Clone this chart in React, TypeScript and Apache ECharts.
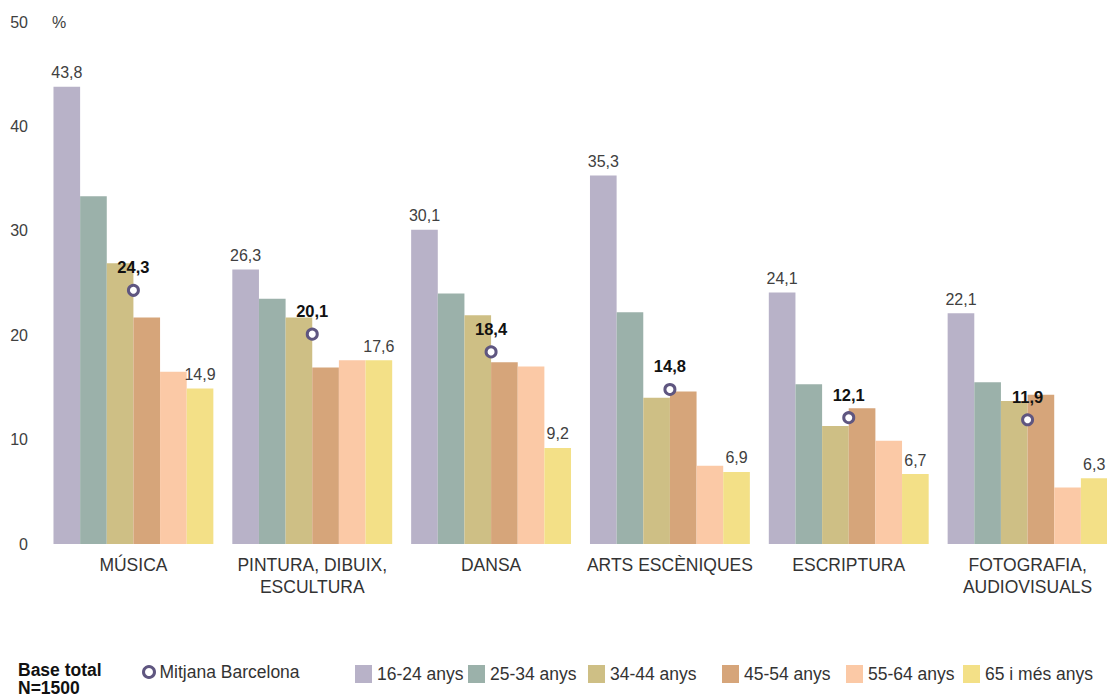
import React, { useEffect, useRef } from "react";
import * as echarts from "echarts";

const categories = [
  "MÚSICA",
  "PINTURA, DIBUIX,\nESCULTURA",
  "DANSA",
  "ARTS ESCÈNIQUES",
  "ESCRIPTURA",
  "FOTOGRAFIA,\nAUDIOVISUALS",
];
const seriesNames = ["16-24 anys", "25-34 anys", "34-44 anys", "45-54 anys", "55-64 anys", "65 i més anys"];
const age16_24 = [43.8, 26.3, 30.1, 35.3, 24.1, 22.1];
const age25_34 = [33.3, 23.5, 24.0, 22.2, 15.3, 15.5];
const age34_44 = [26.9, 21.7, 21.9, 14.0, 11.3, 13.7];
const age45_54 = [21.7, 16.9, 17.4, 14.6, 13.0, 14.3];
const age55_64 = [16.5, 17.6, 17.0, 7.5, 9.9, 5.4];
const age65plus = [14.9, 17.6, 9.2, 6.9, 6.7, 6.3];
const mitjana = [24.3, 20.1, 18.4, 14.8, 12.1, 11.9];
const meanName = "Mitjana Barcelona";
const baseText = "Base total\nN=1500";
const yMin = 0;
const yMax = 50;
const yInterval = 10;

const colors = ["#B8B2C8", "#9BB1AA", "#CEBF85", "#D6A57A", "#FBC9A6", "#F3E087"];
const legendLefts = [355, 468, 588, 722, 846, 963];
const FONT = "'Liberation Sans', Arial, sans-serif";

const fmt = (v: number) => v.toFixed(1).replace(".", ",");

export default function App() {
  const ref = useRef<HTMLDivElement>(null);
  useEffect(() => {
    if (!ref.current) return;
    const chart = echarts.init(ref.current, undefined, { renderer: "svg" });
    const allSeries = [age16_24, age25_34, age34_44, age45_54, age55_64, age65plus];
    const labeled = [true, false, false, false, false, true];
    const barSeries = allSeries.map((data, i) => ({
      name: seriesNames[i],
      type: "bar",
      data,
      barGap: "0%",
      barCategoryGap: "10.6%",
      itemStyle: { color: colors[i] },
      label: {
        show: labeled[i],
        position: "top",
        distance: 6,
        fontFamily: FONT,
        fontSize: 16,
        color: "#404040",
        formatter: (p: any) => fmt(p.value),
      },
    }));
    const option: any = {
      animation: false,
      textStyle: { fontFamily: FONT },
      grid: { left: 44, top: 22, width: 1073, height: 522 },
      xAxis: {
        type: "category",
        data: categories,
        axisLine: { show: false },
        axisTick: { show: false },
        axisLabel: {
          fontFamily: FONT,
          fontSize: 17.5,
          color: "#333",
          margin: 10,
          lineHeight: 22,
          interval: 0,
        },
      },
      yAxis: {
        type: "value",
        min: yMin,
        max: yMax,
        interval: yInterval,
        name: "%",
        nameLocation: "end",
        nameGap: 0,
        nameTextStyle: {
          fontFamily: FONT,
          fontSize: 16,
          color: "#404040",
          align: "left",
          verticalAlign: "middle",
          padding: [0, 0, 0, 8],
        },
        splitLine: { show: false },
        axisLine: { show: false },
        axisTick: { show: false },
        axisLabel: { fontFamily: FONT, fontSize: 16, color: "#404040", margin: 16 },
      },
      legend: [
        {
          data: [
            {
              name: meanName,
              icon: "circle",
              itemStyle: { color: "#fff", borderColor: "#5F5680", borderWidth: 3 },
            },
          ],
          left: 142,
          top: 663,
          padding: 0,
          itemWidth: 11,
          itemHeight: 11,
          textStyle: { fontFamily: FONT, fontSize: 17.5, color: "#333" },
        },
        ...seriesNames.map((n, i) => ({
          data: [{ name: n, icon: "rect" }],
          left: legendLefts[i],
          top: 665,
          padding: 0,
          itemWidth: 17,
          itemHeight: 18,
          textStyle: { fontFamily: FONT, fontSize: 17.5, color: "#333" },
        })),
      ],
      graphic: [
        {
          type: "text",
          left: 18,
          top: 661,
          style: {
            text: baseText,
            fontFamily: FONT,
            fontSize: 17.5,
            fontWeight: "bold",
            lineHeight: 18,
            fill: "#111",
          },
        },
      ],
      series: [
        ...barSeries,
        {
          name: meanName,
          type: "scatter",
          data: mitjana,
          symbol: "circle",
          symbolSize: 10,
          z: 5,
          itemStyle: { color: "#fff", borderColor: "#5F5680", borderWidth: 3, opacity: 1 },
          label: {
            show: true,
            position: "top",
            distance: 8,
            fontFamily: FONT,
            fontSize: 16.5,
            fontWeight: "bold",
            color: "#111",
            formatter: (p: any) => fmt(p.value),
          },
        },
      ],
    };
    chart.setOption(option);
    return () => chart.dispose();
  }, []);
  return (
    <div
      ref={ref}
      style={{ position: "fixed", left: 0, top: 0, width: 1130, height: 699, background: "#fff" }}
    />
  );
}
